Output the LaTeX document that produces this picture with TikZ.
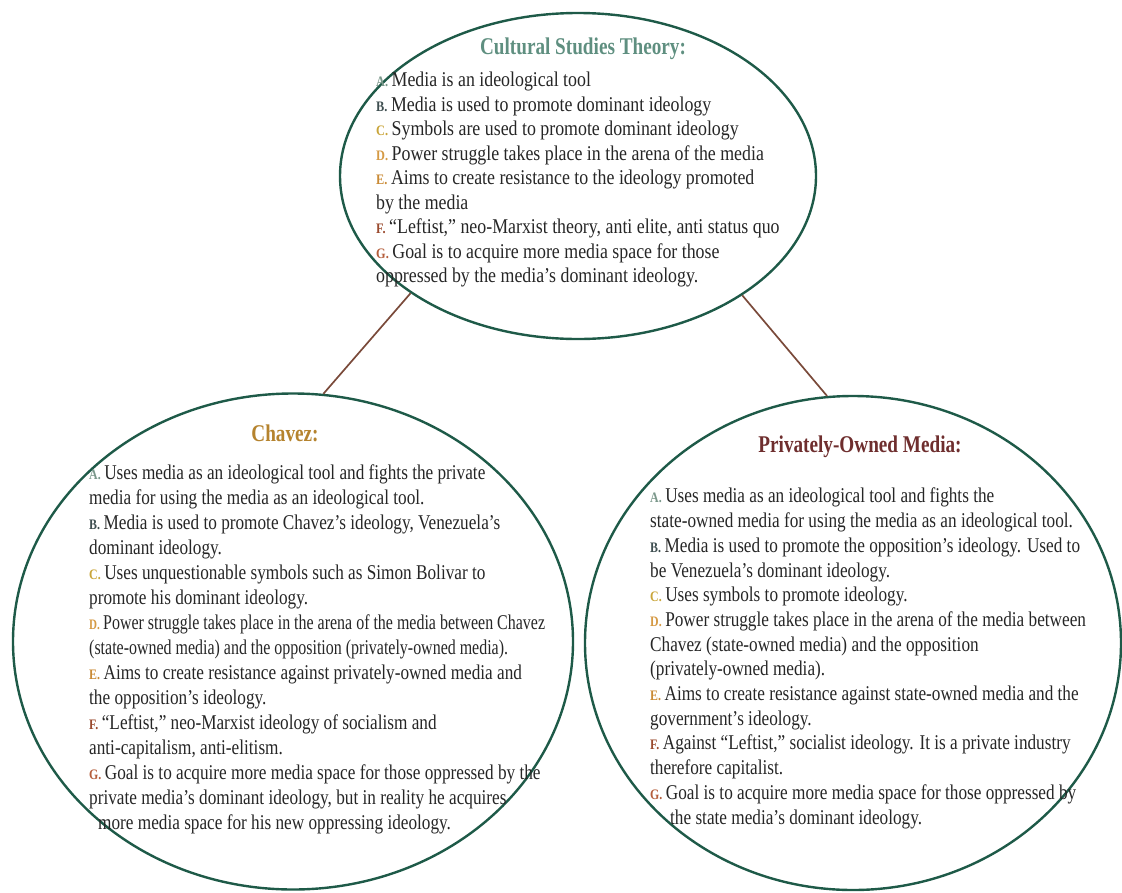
\documentclass[tikz,border=0pt]{standalone}
\usepackage{fontspec}
\setmainfont{Liberation Serif}
\newfontfamily\sidefont[FakeStretch=0.82]{Liberation Serif}
\newfontfamily\topfont[FakeStretch=0.85]{Liberation Serif}
\newfontfamily\headfont[FakeStretch=0.8]{Liberation Serif}
\usetikzlibrary{shapes.geometric}
\definecolor{ringgreen}{HTML}{1E5A48}
\definecolor{linkbrown}{HTML}{7A4A3A}
\definecolor{titlegreen}{HTML}{5F8F80}
\definecolor{titlegold}{HTML}{B5832E}
\definecolor{titlered}{HTML}{6E2E2E}
\definecolor{bodygray}{HTML}{262626}
\definecolor{cA}{HTML}{7A978A}
\definecolor{cB}{HTML}{3E4E50}
\definecolor{cC}{HTML}{C9A53A}
\definecolor{cD}{HTML}{D59A45}
\definecolor{cE}{HTML}{C98A35}
\definecolor{cF}{HTML}{9A4A2E}
\definecolor{cG}{HTML}{B45E3C}
\newcommand{\itm}[2]{{\color{#1}\fontsize{14.5}{10}\selectfont\bfseries #2.}\,}
\newcommand{\tight}[1]{\scalebox{0.927}[1]{#1}}
\tikzset{
  ring/.style={ellipse, draw=ringgreen, line width=2.4pt, inner sep=0pt},
  link/.style={draw=linkbrown, line width=1.7pt},
  body/.style={align=left, anchor=north west, inner sep=0pt, text=bodygray},
  leftbody/.style={body, font=\sidefont\fontsize{21}{25}\selectfont},
  rightbody/.style={body, font=\sidefont\fontsize{21}{24.7}\selectfont},
  topbody/.style={body, font=\topfont\fontsize{21}{24.5}\selectfont},
  heading/.style={inner sep=0pt, font=\headfont\fontsize{24}{26}\selectfont\bfseries}
}
\begin{document}
\begin{tikzpicture}[x=1pt,y=-1pt]
\useasboundingbox (0,0) rectangle (1122,892);
\node[ring, minimum width=476pt, minimum height=326pt] (top) at (578,176) {};
\node[ring, minimum width=560pt, minimum height=496pt] (chav) at (293,641.5) {};
\node[ring, minimum width=536pt, minimum height=494pt] (priv) at (853,643) {};
\draw[link] (top.215) -- (chav.83.5);
\draw[link] (top.324) -- (priv.96);
\node[heading, text=titlegreen] (t1) at (583,49) {Cultural Studies Theory:};
\node[topbody] (b1) at (376,72) {%
\itm{cA}{A}Media is an ideological tool\\
\itm{cB}{B}Media is used to promote dominant ideology\\
\itm{cC}{C}Symbols are used to promote dominant ideology\\
\itm{cD}{D}Power struggle takes place in the arena of the media\\
\itm{cE}{E}Aims to create resistance to the ideology promoted\\
by the media\\
\itm{cF}{F}“Leftist,” neo-Marxist theory, anti elite, anti status quo\\
\itm{cG}{G}Goal is to acquire more media space for those\\
oppressed by the media’s dominant ideology.};
\node[heading, text=titlegold] (t2) at (285,433) {Chavez:};
\node[leftbody] (b2) at (89,465) {%
\itm{cA}{A}Uses media as an ideological tool and fights the private\\
media for using the media as an ideological tool.\\
\itm{cB}{B}Media is used to promote Chavez’s ideology, Venezuela’s\\
dominant ideology.\\
\itm{cC}{C}Uses unquestionable symbols such as Simon Bolivar to\\
promote his dominant ideology.\\
\tight{\itm{cD}{D}Power struggle takes place in the arena of the media between Chavez}\\
\tight{(state-owned media) and the opposition (privately-owned media).}\\
\itm{cE}{E}Aims to create resistance against privately-owned media and\\
the opposition’s ideology.\\
\itm{cF}{F}“Leftist,” neo-Marxist ideology of socialism and\\
anti-capitalism, anti-elitism.\\
\itm{cG}{G}Goal is to acquire more media space for those oppressed by the\\
private media’s dominant ideology, but in reality he acquires\\
\hspace*{9pt}more media space for his new oppressing ideology.};
\node[heading, text=titlered] (t3) at (860,447) {Privately-Owned Media:};
\node[rightbody] (b3) at (650,488) {%
\itm{cA}{A}Uses media as an ideological tool and fights the\\
state-owned media for using the media as an ideological tool.\\
\itm{cB}{B}Media is used to promote the opposition’s ideology. Used to\\
be Venezuela’s dominant ideology.\\
\itm{cC}{C}Uses symbols to promote ideology.\\
\itm{cD}{D}Power struggle takes place in the arena of the media between\\
Chavez (state-owned media) and the opposition\\
(privately-owned media).\\
\itm{cE}{E}Aims to create resistance against state-owned media and the\\
government’s ideology.\\
\itm{cF}{F}Against “Leftist,” socialist ideology. It is a private industry\\
therefore capitalist.\\
\itm{cG}{G}Goal is to acquire more media space for those oppressed by\\
\hspace*{20pt}the state media’s dominant ideology.};
\end{tikzpicture}
\end{document}
